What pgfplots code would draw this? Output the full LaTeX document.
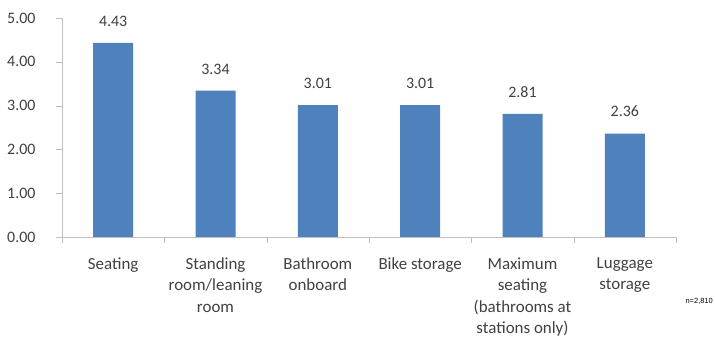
\documentclass[border=0pt]{standalone}
\usepackage{pgfplots}
\pgfplotsset{compat=1.18}
\usepackage{fontspec}
\setmainfont{Carlito}
\newfontfamily\arialf{Liberation Sans}
\definecolor{barblue}{HTML}{4F81BD}
\definecolor{txt}{HTML}{404040}
\definecolor{axgray}{HTML}{BFBFBF}
\begin{document}
\begin{tikzpicture}
\path[use as bounding box] (0,0) rectangle (715bp,343bp);
\begin{axis}[at={(62bp,106bp)}, anchor=south west, scale only axis,
  width=614bp, height=219bp,
  xmin=-0.5, xmax=5.5, ymin=0, ymax=5,
  axis lines=left, axis line style={-, draw=axgray},
  /pgf/number format/.cd, fixed, fixed zerofill, precision=2, assume math mode=true, /pgfplots/.cd,
  ytick={0,1,2,3,4,5},
  yticklabel style={font=\fontsize{16}{18}\selectfont, text=txt, xshift=-17bp},
  xtick={0,...,5},
  xticklabels={Seating, Standing\\room/leaning\\room, Bathroom\\onboard, Bike storage, Maximum\\seating\\(bathrooms at\\stations only), Luggage\\storage},
  xticklabel style={align=center, font=\fontsize{17}{21.5}\selectfont, text=txt, yshift=-11bp},
  major x tick style={draw=none},
  minor xtick={-0.5,0.5,...,5.5},
  minor x tick style={draw=axgray},
  y tick style={draw=axgray},
  tick align=outside, major tick length=6bp, minor tick length=6bp,
  ybar, bar width=40bp,
  nodes near coords,
  nodes near coords style={font=\fontsize{16}{18}\selectfont, text=txt, yshift=13bp},
]
\addplot[fill=barblue, draw=none] coordinates {(0,4.43)(1,3.34)(2,3.01)(3,3.01)(4,2.81)(5,2.36)};
\end{axis}
\node[font=\arialf\fontsize{7.5}{9}\selectfont, anchor=east, text=black, inner sep=0pt] at (713bp, 42bp) {n=2,810};
\end{tikzpicture}
\end{document}
